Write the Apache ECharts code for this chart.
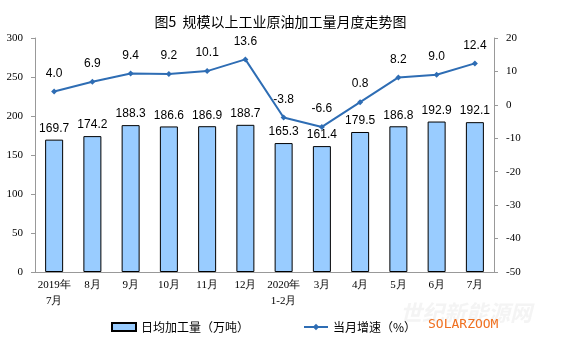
<!DOCTYPE html>
<html><head><meta charset="utf-8">
<script src="https://cdn.jsdelivr.net/npm/echarts@6/dist/echarts.min.js"></script>
<style>html,body{margin:0;padding:0;background:#fff}#c{width:561px;height:357px}</style>
</head><body><div id="c"></div>
<script>
var categories = ['2019年\n7月','8月','9月','10月','11月','12月','2020年\n1-2月','3月','4月','5月','6月','7月'];
var dailyOutput = [169.7,174.2,188.3,186.6,186.9,188.7,165.3,161.4,179.5,186.8,192.9,192.1];
var growth = [4.0,6.9,9.4,9.2,10.1,13.6,-3.8,-6.6,0.8,8.2,9.0,12.4];
var leftTicks = [0,300,50];
var rightTicks = [-50,20,10];

var chart = echarts.init(document.getElementById('c'));
chart.setOption({
  animation:false,
  title:{text:'图5  规模以上工业原油加工量月度走势图',left:'center',top:10,
    textStyle:{fontFamily:'Noto Sans CJK SC',fontSize:14,fontWeight:'normal',color:'#000'}},
  grid:{left:35,right:67,top:38,bottom:85},
  legend:{bottom:19,left:106,itemGap:54,itemWidth:24,itemHeight:8,
    textStyle:{fontFamily:'Noto Sans CJK SC',fontSize:12,color:'#000'},
    data:[{name:'日均加工量（万吨）',icon:'rect'},{name:'当月增速（%）'}]},
  xAxis:{type:'category',data:categories,
    axisLine:{lineStyle:{color:'#999'}},axisTick:{show:false},
    axisLabel:{interval:0,color:'#000',fontFamily:'Liberation Serif',fontSize:11,lineHeight:16,margin:5}},
  yAxis:[
    {type:'value',min:leftTicks[0],max:leftTicks[1],interval:leftTicks[2],
      splitLine:{show:false},axisLine:{show:true,lineStyle:{color:'#999'}},
      axisTick:{show:true,inside:false,length:4,lineStyle:{color:'#999'}},
      axisLabel:{color:'#000',fontFamily:'Liberation Serif',fontSize:11,margin:12}},
    {type:'value',min:rightTicks[0],max:rightTicks[1],interval:rightTicks[2],
      splitLine:{show:false},axisLine:{show:true,lineStyle:{color:'#999'}},
      axisTick:{show:true,length:4,lineStyle:{color:'#999'}},
      axisLabel:{color:'#000',fontFamily:'Liberation Serif',fontSize:11,margin:12}}
  ],
  series:[
    {name:'日均加工量（万吨）',type:'bar',data:dailyOutput,barWidth:18,
      itemStyle:{color:'#99CCFF',borderColor:'#000',borderWidth:1},
      label:{show:true,position:'top',color:'#000',fontFamily:'Liberation Sans',fontSize:12,
        formatter:function(p){return p.value.toFixed(1);}}},
    {name:'当月增速（%）',type:'line',yAxisIndex:1,data:growth,
      symbol:'diamond',symbolSize:6,
      lineStyle:{color:'#2E6DB4',width:2},itemStyle:{color:'#2E6DB4'},
      label:{show:true,position:'top',distance:9,color:'#000',fontFamily:'Liberation Sans',fontSize:12,
        formatter:function(p){return p.value.toFixed(1);}}}
  ],
  graphic:[
    {type:'text',left:400,top:302,style:{text:'世纪新能源网',fill:'rgba(210,210,210,0.25)',
      font:'italic bold 22px "Noto Sans CJK SC"'}},
    {type:'text',left:428,top:318,style:{text:'SOLARZOOM',fill:'#F07020',
      font:'13px "DejaVu Sans Mono"'}}
  ]
});
</script></body></html>
